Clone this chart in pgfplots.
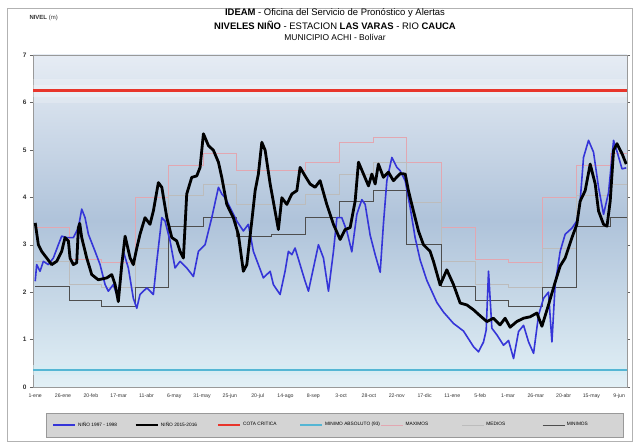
\documentclass[border=0pt]{standalone}
\usepackage{pgfplots}
\pgfplotsset{compat=1.18}
\usepackage{fontspec}
\setmainfont{Liberation Sans}

\definecolor{ninoA}{HTML}{3535D8}
\definecolor{cota}{HTML}{E8352B}
\definecolor{minabs}{HTML}{55B6D4}
\definecolor{maxc}{HTML}{E2A7B1}
\definecolor{medc}{HTML}{BCBCBC}
\definecolor{minc}{HTML}{4E4E4E}
\definecolor{bgtop}{HTML}{E6ECF4}
\definecolor{bgmid}{HTML}{AFC3DA}
\definecolor{bgbot}{HTML}{E2F0F6}

\begin{document}
\begin{tikzpicture}[x=1bp,y=1bp]
\path[use as bounding box] (0,0) rectangle (634,442);
\draw[draw=black!30, fill=white] (7,1) rectangle (632,434);

\begin{axis}[
  at={(33bp,55bp)}, anchor=south west,
  scale only axis, width=594bp, height=332bp,
  xmin=-2, xmax=532, ymin=0, ymax=7,
  axis background/.style={top color=bgtop, bottom color=bgbot, middle color=bgmid},
  axis line style={draw=black!40, line width=0.5bp},
  xtick={0,25,...,525},
  xticklabels={1-ene,26-ene,20-feb,17-mar,11-abr,6-may,31-may,25-jun,20-jul,14-ago,8-sep,3-oct,28-oct,22-nov,17-dic,11-ene,5-feb,1-mar,26-mar,20-abr,15-may,9-jun},
  ytick={0,1,...,7},
  /pgf/number format/assume math mode=true,
  tick label style={text=black!80},
  yticklabel style={font=\bfseries\fontsize{6.5}{7}\selectfont},
  xticklabel style={font=\fontsize{5.2}{6}\selectfont},
  ytick style={draw=black!60},
  xtick style={draw=none},
  tick align=outside, major tick length=3bp,
  legend columns=7,
  legend style={at={(0.508,-0.1145)}, anchor=center,
    draw=black!40, fill=black!17,
    font=\fontsize{4.8}{5}\selectfont,
    inner xsep=6bp, inner ysep=7bp,
    /tikz/every even column/.append style={column sep=6bp}},
  legend image code/.code={\draw[#1] (0bp,0bp) -- (22bp,0bp);},
]

% soft bands behind the reference levels
\addplot[white, opacity=0.22, line width=24bp, forget plot] coordinates {(-2,6.25) (532,6.25)};
\addplot[white, opacity=0.25, line width=12bp, forget plot] coordinates {(-2,6.25) (532,6.25)};
\addplot[minabs!25, opacity=0.6, line width=10bp, forget plot] coordinates {(-2,0.35) (532,0.35)};

% monthly historical levels (maximum, mean, minimum)
\addplot[maxc, line width=0.6bp, const plot, forget plot] coordinates {
(0,3.36)(31,2.70)(59,2.62)(90,4.00)(120,4.67)(151,4.92)(181,4.56)(212,4.56)(243,4.74)(273,5.15)(304,5.27)(334,4.74)
(365,3.36)(396,2.70)(425,2.62)(456,4.00)(486,4.67)(517,4.92)(532,4.92)};
\addplot[medc, line width=0.6bp, const plot, forget plot] coordinates {
(0,2.66)(31,2.17)(59,2.10)(90,2.93)(120,4.05)(151,4.28)(181,3.86)(212,3.86)(243,4.07)(273,4.49)(304,4.74)(334,3.89)
(365,2.66)(396,2.17)(425,2.10)(456,2.93)(486,4.05)(517,4.28)(532,4.28)};
\addplot[minc, line width=0.6bp, const plot, forget plot] coordinates {
(0,2.13)(31,1.82)(59,1.70)(90,2.10)(120,3.39)(151,3.57)(181,3.18)(212,3.22)(243,3.57)(273,3.92)(304,4.14)(334,3.01)
(365,2.13)(396,1.82)(425,1.70)(456,2.10)(486,3.39)(517,3.57)(532,3.57)};

% Niño 1997-1998
\addplot[ninoA, line width=1.6bp, line join=round] coordinates {
(0,2.23)(1.3,2.58)(4.3,2.44)(7.3,2.65)(11.8,2.58)(16.3,2.72)(20.8,3.00)(23.8,3.18)(28.3,3.15)(34.3,3.15)
(38.8,3.36)(41.8,3.75)(44.8,3.57)(47.8,3.22)(53.8,2.86)(58.3,2.58)(62.8,2.16)(65.7,2.02)(70.2,2.16)(73.3,1.95)
(76.3,2.16)(79.2,2.86)(83.7,2.51)(88.2,1.87)(91.3,1.66)(94.2,1.95)(100.3,2.09)(106.2,1.95)(109.3,2.65)(113.8,3.57)
(116.7,3.50)(121.2,3.08)(125.7,2.51)(130.2,2.65)(136.2,2.51)(142.2,2.33)(146.7,2.86)(152.7,3.00)(158.7,3.57)(164.7,4.21)
(167.7,4.07)(170.7,3.99)(175.2,3.78)(181.2,3.50)(187.1,3.29)(191.6,3.43)(196.1,2.86)(200.6,2.58)(205.1,2.30)(211.2,2.44)
(214.1,2.16)(220.1,1.95)(224.6,2.44)(227.6,2.86)(230.7,2.79)(233.6,2.93)(238.1,2.58)(242.6,2.23)(245.6,2.02)(250.1,2.51)
(254.6,3.00)(259.1,2.72)(263.6,2.02)(268.1,2.86)(271.2,3.57)(275.6,3.57)(280.1,3.29)(284.6,2.85)(289.1,3.64)(293.6,3.95)
(296.6,3.85)(301.1,3.20)(305.6,2.79)(310.1,2.42)(313.0,3.43)(316.1,4.35)(320.6,4.84)(325.1,4.63)(328.1,4.56)(332.6,4.35)
(337.1,3.78)(341.5,3.15)(346.0,2.68)(352.0,2.25)(361.1,1.78)(367.0,1.58)(376.0,1.34)(385.0,1.18)(394.0,0.85)(398.5,0.74)
(403.0,0.95)(405.4,1.20)(407.5,2.44)(410.5,1.24)(415.0,1.10)(421.0,0.88)(425.5,0.98)(430.0,0.60)(434.5,1.17)(439.0,1.30)
(443.5,0.95)(448.0,0.71)(452.5,1.52)(457.0,1.87)(461.4,2.00)(464.5,0.95)(467.4,2.16)(471.9,2.86)(476.4,3.22)(482.5,3.35)
(486.9,3.50)(489.9,3.92)(492.9,4.84)(497.4,5.20)(501.9,4.95)(506.4,4.21)(510.9,3.64)(515.4,4.10)(519.9,5.20)(523.2,4.95)
(527.5,4.60)(531.3,4.62)};
\addlegendentry{\makebox[48bp][l]{NIÑO 1997 - 1998}}

% Niño 2015-2016
\addplot[black, line width=2.8bp, line join=round] coordinates {
(0,3.46)(2.8,3.00)(5.8,2.86)(10.3,2.72)(14.8,2.58)(19.3,2.65)(23.8,2.86)(26.8,3.15)(29.8,3.08)(31.3,2.72)
(34.3,2.58)(37.3,2.62)(38.8,3.36)(40.0,3.45)(41.8,3.15)(46.3,2.72)(50.8,2.37)(56.7,2.26)(64.3,2.30)(68.8,2.37)
(71.8,2.16)(74.7,1.80)(77.8,2.58)(80.8,3.18)(85.3,2.72)(88.2,2.58)(91.3,2.93)(94.2,3.22)(98.7,3.57)(103.2,3.43)
(106.2,3.71)(110.7,4.31)(113.8,4.21)(118.3,3.57)(122.8,3.15)(127.2,3.08)(130.2,2.86)(133.2,2.72)(136.2,4.07)(140.7,4.42)
(145.2,4.45)(148.2,4.63)(151.2,5.34)(155.7,5.09)(160.2,4.99)(164.7,4.74)(167.7,4.42)(172.2,3.85)(178.1,3.57)(182.6,3.22)
(187.1,2.44)(190.2,2.58)(194.7,3.50)(197.7,4.14)(200.6,4.49)(203.7,5.16)(206.7,4.99)(211.2,4.28)(215.6,3.71)(218.6,3.32)
(221.7,3.99)(226.2,3.85)(230.7,4.07)(235.2,4.14)(238.1,4.63)(242.6,4.45)(247.1,4.28)(251.6,4.21)(256.1,4.35)(262.1,3.85)
(268.1,3.43)(274.1,3.11)(278.6,3.32)(283.1,3.36)(287.6,3.92)(290.6,4.74)(295.1,4.49)(299.6,4.24)(302.6,4.49)(305.6,4.28)
(308.5,4.70)(313.0,4.42)(317.5,4.53)(322.0,4.35)(328.1,4.50)(332.6,4.49)(335.5,4.14)(340.0,3.71)(344.5,3.29)(349.0,3.00)
(355.0,2.86)(358.0,2.65)(364.0,2.15)(370.0,2.47)(376.0,2.16)(382.0,1.77)(388.0,1.73)(393.9,1.63)(400.0,1.50)(406.0,1.38)
(411.9,1.45)(417.9,1.31)(422.4,1.45)(426.9,1.26)(432.9,1.38)(438.9,1.45)(444.9,1.48)(451.0,1.56)(455.5,1.28)(461.4,1.73)
(467.4,2.21)(471.9,2.55)(476.4,2.72)(482.5,3.15)(486.9,3.43)(489.9,3.92)(494.4,4.14)(498.9,4.70)(503.4,4.28)(506.4,3.71)
(510.9,3.43)(514.0,3.39)(516.9,3.92)(519.9,4.99)(523.0,5.13)(527.5,4.92)(531.3,4.70)};
\addlegendentry{\makebox[48bp][l]{NIÑO 2015-2016}}

% reference levels
\addplot[cota, line width=2.2bp] coordinates {(-2,6.25) (532,6.25)};
\addlegendentry{\makebox[48bp][l]{COTA CRITICA}}
\addplot[minabs, line width=2bp] coordinates {(-2,0.35) (532,0.35)};
\addlegendentry{\makebox[48bp][l]{MINIMO ABSOLUTO (93)}}

\addlegendimage{maxc, line width=0.6bp}
\addlegendentry{\makebox[48bp][l]{MAXIMOS}}
\addlegendimage{medc, line width=0.6bp}
\addlegendentry{\makebox[48bp][l]{MEDIOS}}
\addlegendimage{minc, line width=0.6bp}
\addlegendentry{\makebox[48bp][l]{MINIMOS}}
\end{axis}

% titles
\node[anchor=west, font=\fontsize{6}{7}\selectfont, text=black!80] at (26,424) {\textbf{NIVEL} (m)};
\node[font=\fontsize{9.5}{10}\selectfont] at (335,429) {\textbf{IDEAM} - Oficina del Servicio de Pronóstico y Alertas};
\node[font=\fontsize{9.5}{10}\selectfont] at (335,417) {\textbf{NIVELES NIÑO} - ESTACION \textbf{LAS VARAS} - RIO \textbf{CAUCA}};
\node[font=\fontsize{8.5}{9}\selectfont] at (335,405) {MUNICIPIO ACHI - Bolívar};
\end{tikzpicture}
\end{document}
